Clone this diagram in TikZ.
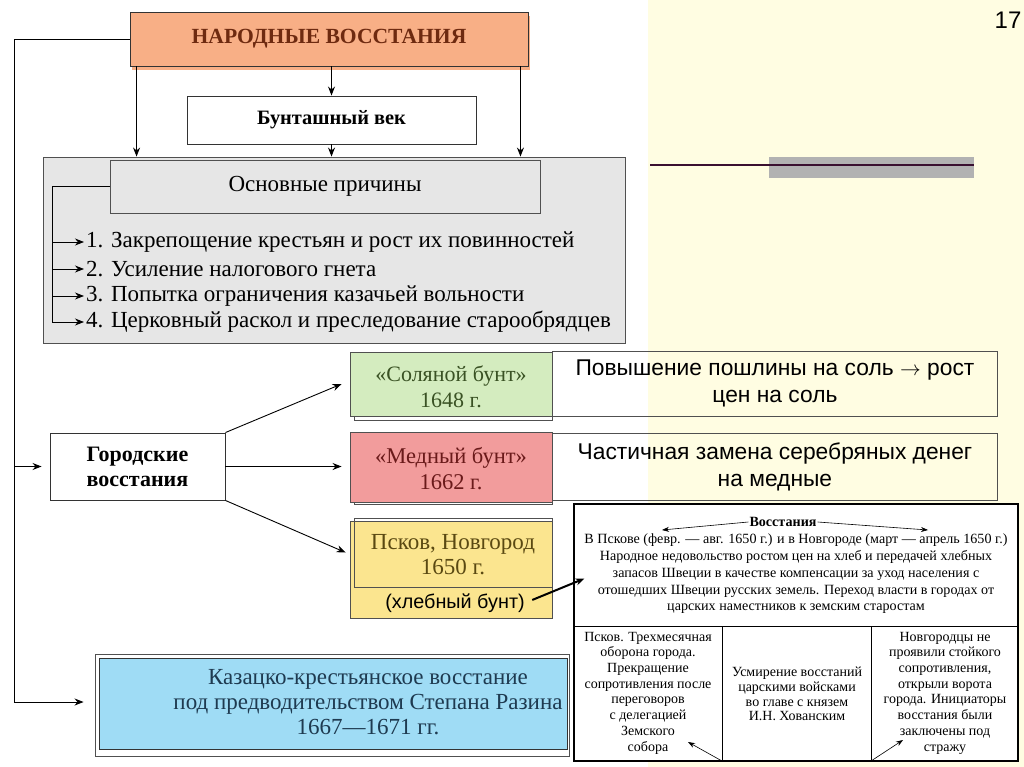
\documentclass[tikz,border=0pt]{standalone}
\usepackage{fontspec}
\setmainfont{Liberation Serif}
\setsansfont{Liberation Sans}
\usetikzlibrary{arrows.meta,calc}
\definecolor{bgy}{HTML}{FFFDE2}
\definecolor{orng}{HTML}{F8AF86}
\definecolor{ttl}{HTML}{6E2A10}
\definecolor{gryf}{HTML}{E6E6E6}
\definecolor{gryd}{HTML}{505050}
\definecolor{grnf}{HTML}{D4ECBF}
\definecolor{grnt}{HTML}{3A5224}
\definecolor{redf}{HTML}{F29C9C}
\definecolor{redt}{HTML}{6A1A1A}
\definecolor{ylwf}{HTML}{FBE58F}
\definecolor{ylwt}{HTML}{5A4912}
\definecolor{bluf}{HTML}{9FDCF5}
\definecolor{blut}{HTML}{1E3A50}
\definecolor{purp}{HTML}{3A1030}
\definecolor{grbar}{HTML}{B2B2B2}
\newcommand\fsz[2]{\fontsize{#1}{#2}\selectfont}
\begin{document}
\begin{tikzpicture}[x=1pt,y=-1pt,
  arr/.style={-{Stealth[length=9pt,width=7pt]}, line width=0.9pt},
  thinarr/.style={-{Stealth[length=7pt,width=5pt]}, line width=0.6pt},
  bx/.style={draw=gryd, line width=0.9pt, inner sep=0pt, align=center},
  item/.style={inner sep=0pt, anchor=west, font=\fsz{23}{26}},
  sm/.style={inner sep=0pt, align=center, font=\fsz{14.1}{16.7}}
]
\useasboundingbox (0,0) rectangle (1024,767);
\fill[bgy] (648,0) rectangle (1024,767);
% decoration top right
\fill[grbar] (769,157) rectangle (974,178);
\draw[purp, line width=2.5pt] (650,165) -- (974,165);
\node[font=\sffamily\fsz{24}{28}, inner sep=0pt] (num) at (1008,20) {17};

% title
\fill[orng] (132,16) rectangle (530,70);
\node[bx, fill=orng, draw=black!80, minimum width=398pt, minimum height=54pt,
  font=\bfseries\fsz{21.6}{24}, text=ttl] (title) at (329,39) {НАРОДНЫЕ ВОССТАНИЯ};
\node[bx, draw=black!80, fill=white, minimum width=289pt, minimum height=48pt,
  font=\bfseries\fsz{20.4}{22}] (bunt) at (331.5,120) {Бунташный век};
% gray box
\node[bx, fill=gryf, minimum width=582pt, minimum height=186pt] (gray) at (334,250) {};
\node[bx, fill=gryf, minimum width=430pt, minimum height=53pt,
  font=\fsz{23}{26}] (osn) at (325,186.5) {\raisebox{-2pt}{Основные причины}};
\node[item] (c1) at (86,242) {1. Закрепощение крестьян и рост их повинностей};
\node[item] (c2) at (86,269) {2. Усиление налогового гнета};
\node[item] (c3) at (86,296) {3. Попытка ограничения казачьей вольности};
\node[item] (c4) at (86,322) {4. Церковный раскол и преследование старообрядцев};
\coordinate (bp) at (52,186.5);
\draw[line width=0.9pt] (osn.west) -- (bp) -- (bp |- c4.west);
\foreach \i in {1,2,3,4} \draw[arr, shorten >=2pt] (bp |- c\i.west) -- (c\i.west);

% top arrows
\draw[arr] ([xshift=7pt]title.south west) -- ([xshift=7pt]title.south west |- gray.north);
\draw[arr] ([xshift=-8pt]title.south east) -- ([xshift=-8pt]title.south east |- gray.north);
\draw[arr] (title.south -| bunt.north) -- (bunt.north);
\draw[arr] (bunt.south) -- (bunt.south |- gray.north);

% left connector
\coordinate (L0) at (14,39);
\coordinate (L1) at (14,702);
\draw[line width=0.9pt] (title.west) -- (L0) -- (L1);

% city uprisings
\node[bx, draw=black!80, fill=white, minimum width=175pt, minimum height=67pt,
  font=\bfseries\fsz{22}{25}] (gor) at (137.5,466.5) {Городские\\восстания};
\draw[arr, shorten >=8pt] (L0 |- gor.west) -- (gor.west);

% salt riot
\draw[gryd, line width=0.9pt] (354,355) rectangle (552,420);
\node[bx, fill=grnf, minimum width=202pt, minimum height=64pt, text=grnt] (sol) at (451,384) {};
\node[inner sep=0pt, align=center, font=\fsz{22}{26}, text=grnt] (solt) at (451,387) {«Соляной бунт»\\1648 г.};
\node[bx, minimum width=445pt, minimum height=65pt, anchor=west,
  font=\sffamily\fsz{22.8}{27}] (pov) at (552,383.5) {Повышение пошлины на соль $\rightarrow$ рост\\цен на соль};
% copper riot
\draw[gryd, line width=0.9pt] (354,433) rectangle (552,504);
\node[bx, fill=redf, minimum width=202pt, minimum height=70pt] (med) at (451,467) {};
\node[inner sep=0pt, align=center, font=\fsz{22.5}{26}, text=redt] (medt) at (451,469) {«Медный бунт»\\1662 г.};
\node[bx, minimum width=445pt, minimum height=67pt, anchor=west,
  font=\sffamily\fsz{22.8}{27}] (chast) at (552,466.5) {Частичная замена серебряных денег\\на медные};
% pskov
\node[bx, fill=ylwf, minimum width=202pt, minimum height=97pt] (pskout) at (451,569.5) {};
\node[bx, minimum width=198pt, minimum height=69pt] (psk) at (453,552.5) {};
\node[inner sep=0pt, align=center, font=\fsz{23}{25}, text=ylwt] (pskt) at (453,555) {Псков, Новгород\\1650 г.};
\node[inner sep=0pt, font=\sffamily\fsz{19.8}{22}] (hleb) at (455,603) {(хлебный бунт)};

\draw[arr] (gor.north east) -- ([xshift=-8pt]sol.west);
\draw[arr] (gor.east) -- ([xshift=-8pt]med.west |- gor.east);
\draw[arr] (gor.south east) -- ([xshift=-8pt]psk.west);

% uprisings box
\node[draw=black, line width=1.1pt, fill=white, minimum width=444pt, minimum height=257pt, inner sep=0pt] (vos) at (796,632.5) {};
\draw[arr, line width=2pt, shorten <=8pt] (hleb.east) -- ([xshift=11pt,yshift=54pt]vos.west);
\node[inner sep=1pt, font=\bfseries\fsz{14.1}{16}] (vt) at (783,522) {Восстания};
\coordinate (va) at (662,530);
\coordinate (vb) at (928,530);
\draw[thinarr] (vt.west) -- (va);
\draw[thinarr] (vt.east) -- (vb);
\node[sm] (vtext) at (796,574) {В Пскове (февр. — авг. 1650 г.) и в Новгороде (март — апрель 1650 г.)\\
Народное недовольство ростом цен на хлеб и передачей хлебных\\
запасов Швеции в качестве компенсации за уход населения с\\
отошедших Швеции русских земель. Переход власти в городах от\\
царских наместников к земским старостам};
\coordinate (d0) at (574,626);
\coordinate (d1) at (1018,626);
\coordinate (k1t) at (722,626);
\coordinate (k1b) at (722,761);
\coordinate (k2t) at (871,626);
\coordinate (k2b) at (871,761);
\draw[line width=1pt] (d0) -- (d1);
\draw[line width=1pt] (k1t) -- (k1b);
\draw[line width=1pt] (k2t) -- (k2b);
\node[sm, font=\fsz{14}{15.7}] (col1) at (648,693) {Псков. Трехмесячная\\оборона города.\\Прекращение\\сопротивления после\\переговоров\\с делегацией\\Земского\\собора};
\node[sm, font=\fsz{14}{14.8}] (col2) at (797,694) {Усмирение восстаний\\царскими войсками\\во главе с князем\\И.Н. Хованским};
\node[sm, font=\fsz{14}{15.7}] (col3) at (945,693) {Новгородцы не\\проявили стойкого\\сопротивления,\\открыли ворота\\города. Инициаторы\\восстания были\\заключены под\\стражу};
\coordinate (t1) at (688,742);
\coordinate (t2) at (903,740);
\draw[thinarr] (k1b) -- (t1);
\draw[thinarr] (k2b) -- (t2);

% Razin
\draw[gryd, line width=1pt] (95,654) rectangle (569,756);
\node[draw=black!80, line width=0.9pt, fill=bluf, minimum width=468pt, minimum height=91pt, inner sep=0pt] (raz) at (333,703.5) {};
\node[inner sep=0pt, align=center, font=\fsz{23}{25}, text=blut] (raztext) at (368,702) {Казацко-крестьянское восстание\\под предводительством Степана Разина\\1667—1671 гг.};
\draw[arr, shorten >=15pt] (L1) -- (L1 -| raz.west);
\end{tikzpicture}
\end{document}
